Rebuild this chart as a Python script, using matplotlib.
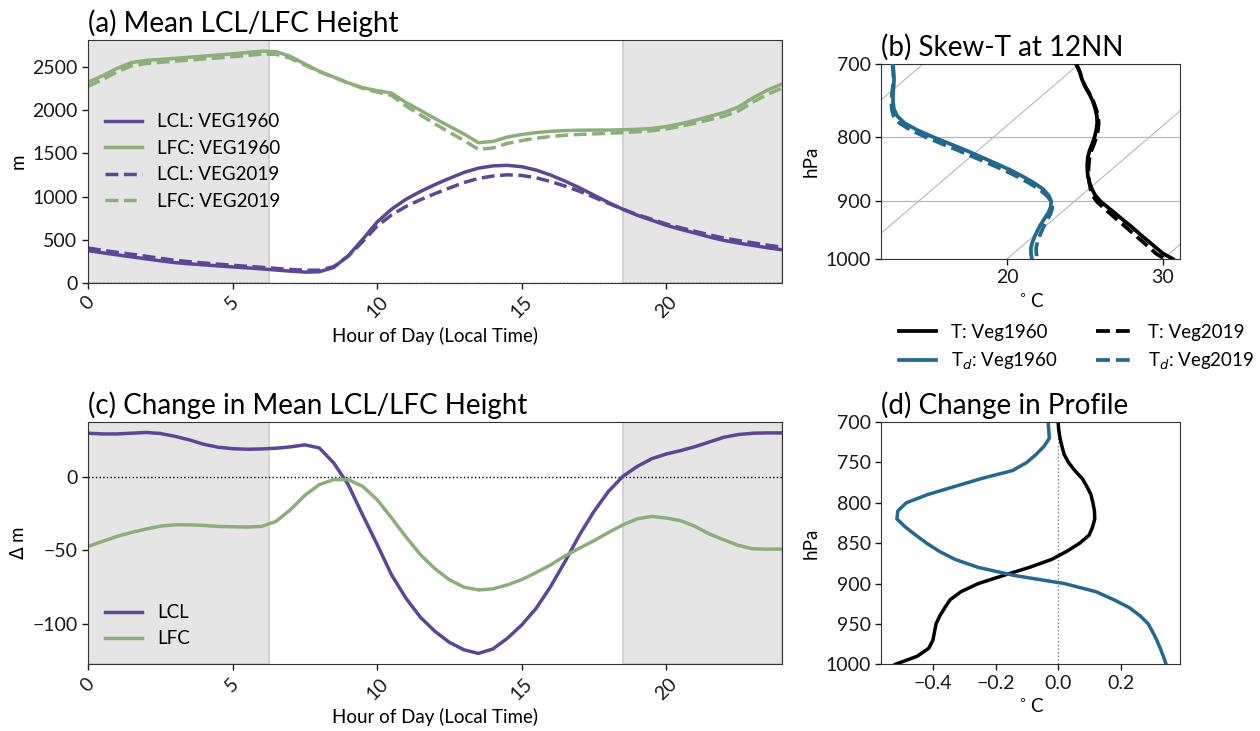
import numpy as np
import matplotlib
matplotlib.use("Agg")
import matplotlib.pyplot as plt
from matplotlib.transforms import Affine2D
from matplotlib.ticker import ScalarFormatter, NullLocator, NullFormatter

# ---------------- data ----------------
hours = np.arange(0, 24.01, 0.5)

lcl_1960 = [375, 350, 326, 303, 280, 257, 236, 222, 210, 198, 186, 175, 163, 150, 137, 126,
            130, 180, 315, 505, 705, 855, 970, 1060, 1140, 1212, 1280, 1330, 1356, 1363, 1347,
            1308, 1250, 1180, 1102, 1017, 932, 854, 784, 726, 668, 621, 578, 532, 493, 462,
            435, 408, 385]
lcl_2019 = [405, 379, 355, 333, 310, 286, 263, 247, 232, 218, 205, 194, 182, 169, 157, 148,
            148, 189, 310, 479, 659, 788, 887, 965, 1035, 1100, 1163, 1210, 1239, 1253, 1246,
            1219, 1175, 1122, 1062, 993, 922, 854, 791, 738, 683, 639, 598, 556, 520, 491,
            465, 438, 415]
lfc_1960 = [2325, 2400, 2485, 2553, 2578, 2590, 2602, 2615, 2628, 2641, 2655, 2670, 2685, 2680,
            2625, 2538, 2453, 2385, 2318, 2262, 2228, 2200, 2090, 2000, 1905, 1815, 1727, 1625,
            1640, 1690, 1720, 1742, 1757, 1765, 1770, 1771, 1772, 1775, 1780, 1790, 1812, 1845,
            1885, 1930, 1975, 2040, 2145, 2235, 2305]
lfc_2019 = [2278, 2356, 2444, 2515, 2542, 2556, 2569, 2582, 2595, 2607, 2621, 2636, 2651, 2650,
            2603, 2525, 2448, 2383, 2316, 2255, 2212, 2172, 2049, 1947, 1843, 1745, 1652, 1548,
            1564, 1616, 1650, 1677, 1697, 1711, 1721, 1727, 1734, 1742, 1751, 1763, 1784, 1815,
            1851, 1891, 1932, 1993, 2096, 2186, 2256]

d_lcl = [29.5, 29, 29, 29.5, 30, 29.3, 27.4, 25, 22, 20, 19, 18.6, 18.8, 19.3, 20.2, 21.6,
         19.5, 9.3, -5.4, -26, -46, -66.7, -82.6, -95.5, -105, -112.5, -117.5, -120, -117,
         -109.8, -100.7, -89.4, -74.6, -57.6, -39.5, -23.6, -10, 0.2, 7, 12.2, 15.4, 17.7,
         20.4, 23.6, 26.8, 28.6, 29.5, 29.7, 29.7]
d_lfc = [-47.4, -44, -40.6, -37.9, -35.6, -33.6, -32.7, -32.7, -33.1, -33.8, -34, -34.2, -33.8,
         -30.4, -22.5, -12.7, -5.4, -2, -2, -6.6, -15.6, -28, -41, -53, -62.5, -70,
         -75, -76.9, -76.2, -73.5, -69.9, -65.1, -59.9, -53.8, -48.5, -43.5, -37.9, -32.7,
         -28.6, -27, -28.1, -29.9, -33.8, -39, -42.9, -46.7, -49, -49.2, -49.2]

pres = [700, 710, 720, 730, 740, 750, 760, 770, 780, 790, 800, 810, 820, 830, 840, 850,
        860, 870, 880, 890, 900, 910, 920, 930, 940, 950, 960, 970, 980, 990, 1000]
t_1960 = [9.82, 10.62, 11.34, 12.12, 12.95, 13.72, 14.41, 15.05, 15.60, 16.06, 16.47, 16.83,
          17.16, 17.55, 18.00, 18.49, 19.01, 19.59, 20.21, 20.88, 21.68, 22.61, 23.53, 24.42,
          25.33, 26.19, 27.04, 27.90, 28.75, 29.59, 30.64]
t_2019 = [9.82, 10.62, 11.35, 12.13, 12.97, 13.75, 14.46, 15.13, 15.69, 16.17, 16.58, 16.95,
          17.28, 17.66, 18.10, 18.56, 19.04, 19.57, 20.12, 20.71, 21.43, 22.30, 23.19, 24.06,
          24.95, 25.80, 26.65, 27.50, 28.34, 29.14, 30.12]
td_1960 = [-1.93, -1.31, -0.71, -0.17, 0.35, 0.90, 1.50, 2.25, 3.25, 4.59, 6.11, 7.69, 9.26,
           10.72, 12.17, 13.57, 14.84, 16.02, 17.07, 17.89, 18.52, 18.93, 19.21, 19.40, 19.60,
           19.84, 20.10, 20.38, 20.71, 21.13, 21.60]
td_2019 = [-1.96, -1.34, -0.74, -0.22, 0.28, 0.80, 1.36, 2.01, 2.92, 4.17, 5.63, 7.18, 8.75,
           10.23, 11.72, 13.15, 14.46, 15.69, 16.82, 17.75, 18.54, 19.05, 19.39, 19.63, 19.86,
           20.13, 20.40, 20.70, 21.04, 21.47, 21.95]
d_t = [0.0, 0.002, 0.006, 0.012, 0.019, 0.033, 0.053, 0.077, 0.092, 0.105, 0.111, 0.116, 0.117,
       0.110, 0.099, 0.069, 0.028, -0.02, -0.092, -0.175, -0.255, -0.31, -0.345, -0.362,
       -0.378, -0.39, -0.395, -0.40, -0.413, -0.45, -0.52]
d_td = [-0.032, -0.030, -0.028, -0.045, -0.070, -0.100, -0.145, -0.245, -0.332, -0.418,
        -0.485, -0.512, -0.515, -0.488, -0.455, -0.42, -0.38, -0.33, -0.255, -0.14, 0.02, 0.12,
        0.178, 0.228, 0.262, 0.288, 0.302, 0.315, 0.326, 0.336, 0.345]

isotherms = [-30, -20, -10, 0, 10, 20, 30, 40, 50]
night_spans = [(0, 6.25), (18.5, 24)]

# ---------------- style ----------------
plt.rcParams['font.family'] = ['Lato', 'DejaVu Sans']
plt.rcParams['font.size'] = 14
plt.rcParams['axes.titlesize'] = 20
plt.rcParams['axes.labelsize'] = 13.5
plt.rcParams['xtick.labelsize'] = 14
plt.rcParams['ytick.labelsize'] = 14
plt.rcParams['legend.fontsize'] = 13.5
plt.rcParams['axes.edgecolor'] = '0.2'
plt.rcParams['xtick.color'] = '0.1'
plt.rcParams['ytick.color'] = '0.1'

PURPLE = '#5b4796'
GREEN = '#8caf7a'
BLUE = '#22688f'
GRID = '#b8b8b8'

fig = plt.figure(figsize=(12.6, 7.31), dpi=100)

ax_a = fig.add_axes([0.0698, 0.6129, 0.5508, 0.3324])
ax_c = fig.add_axes([0.0698, 0.0912, 0.5508, 0.3315])
ax_b = fig.add_axes([0.6994, 0.6457, 0.2368, 0.2668])
ax_d = fig.add_axes([0.6994, 0.0912, 0.2368, 0.3315])


def shade(ax):
    for a, b in night_spans:
        ax.axvspan(a, b, facecolor='#e5e5e5', edgecolor='#cccccc', lw=1.2, zorder=0)


LW = 2.5

# (a)
shade(ax_a)
ax_a.axhline(0, color='k', ls=':', lw=1, zorder=1)
ax_a.plot(hours, lcl_1960, color=PURPLE, lw=LW, label='LCL: VEG1960')
ax_a.plot(hours, lfc_1960, color=GREEN, lw=LW, label='LFC: VEG1960')
ax_a.plot(hours, lcl_2019, color=PURPLE, lw=LW, ls='--', label='LCL: VEG2019')
ax_a.plot(hours, lfc_2019, color=GREEN, lw=LW, ls='--', label='LFC: VEG2019')
ax_a.set_xlim(0, 24)
ax_a.set_ylim(0, 2815)
ax_a.set_xticks([0, 5, 10, 15, 20])
ax_a.set_yticks([0, 500, 1000, 1500, 2000, 2500])
ax_a.set_ylabel('m')
ax_a.set_xlabel('Hour of Day (Local Time)')
ax_a.set_title('(a) Mean LCL/LFC Height', loc='left')
ax_a.legend(loc='center left', frameon=False)

# (c)
shade(ax_c)
ax_c.axhline(0, color='k', ls=':', lw=1, zorder=1)
ax_c.plot(hours, d_lcl, color=PURPLE, lw=LW, label='LCL')
ax_c.plot(hours, d_lfc, color=GREEN, lw=LW, label='LFC')
ax_c.set_xlim(0, 24)
ax_c.set_ylim(-127.4, 37.1)
ax_c.set_xticks([0, 5, 10, 15, 20])
ax_c.set_yticks([-100, -50, 0])
ax_c.set_ylabel(r'$\Delta$ m')
ax_c.set_xlabel('Hour of Day (Local Time)')
ax_c.set_title('(c) Change in Mean LCL/LFC Height', loc='left')
ax_c.legend(loc='lower left', frameon=False)

for ax in (ax_a, ax_c):
    for lab in ax.get_xticklabels():
        lab.set_rotation(45)
        lab.set_ha('center')

# (b) skew-T
xmin_b, xmax_b = 11.94, 31.07
ax_b.set_yscale('log')
ax_b.set_ylim(1000, 700)
ax_b.set_xlim(xmin_b, xmax_b)
skew_tan = 41.0 * np.log(1000 / 700) / (xmax_b - xmin_b)
skew = Affine2D().skew(np.arctan(skew_tan), 0)
tr = ax_b.transScale + ax_b.transLimits + skew + ax_b.transAxes
for T0 in isotherms:
    ax_b.plot([T0, T0], [1000, 700], transform=tr, color=GRID, lw=0.8, zorder=1)
ax_b.grid(axis='y', color=GRID, lw=0.9)
ax_b.plot(t_1960, pres, transform=tr, color='k', lw=2.7, label='T: Veg1960', zorder=3)
ax_b.plot(td_1960, pres, transform=tr, color=BLUE, lw=2.7, label='T$_d$: Veg1960', zorder=3)
ax_b.plot(t_2019, pres, transform=tr, color='k', lw=2.7, ls='--', label='T: Veg2019', zorder=3)
ax_b.plot(td_2019, pres, transform=tr, color=BLUE, lw=2.7, ls='--', label='T$_d$: Veg2019', zorder=3)
ax_b.set_yticks([700, 800, 900, 1000])
ax_b.yaxis.set_major_formatter(ScalarFormatter())
ax_b.yaxis.set_minor_locator(NullLocator())
ax_b.yaxis.set_minor_formatter(NullFormatter())
ax_b.set_xticks([20, 30])
ax_b.set_ylabel('hPa')
ax_b.set_xlabel(r'$^\circ$C')
ax_b.set_title('(b) Skew-T at 12NN', loc='left')
ax_b.legend(loc='upper left', bbox_to_anchor=(0.034, -0.295), ncol=2, frameon=False,
            borderaxespad=0)

# (d)
ax_d.axvline(0, color='grey', ls=':', lw=1, zorder=1)
ax_d.plot(d_t, pres, color='k', lw=LW)
ax_d.plot(d_td, pres, color=BLUE, lw=LW)
ax_d.set_ylim(1000, 700)
ax_d.set_xlim(-0.565, 0.388)
ax_d.set_yticks([700, 750, 800, 850, 900, 950, 1000])
ax_d.set_xticks([-0.4, -0.2, 0.0, 0.2])
ax_d.set_ylabel('hPa')
ax_d.set_xlabel(r'$^\circ$C')
ax_d.set_title('(d) Change in Profile', loc='left')

for ax in (ax_a, ax_b, ax_c, ax_d):
    ax.tick_params(length=4, width=1)

fig.savefig('out.png', dpi=100)
